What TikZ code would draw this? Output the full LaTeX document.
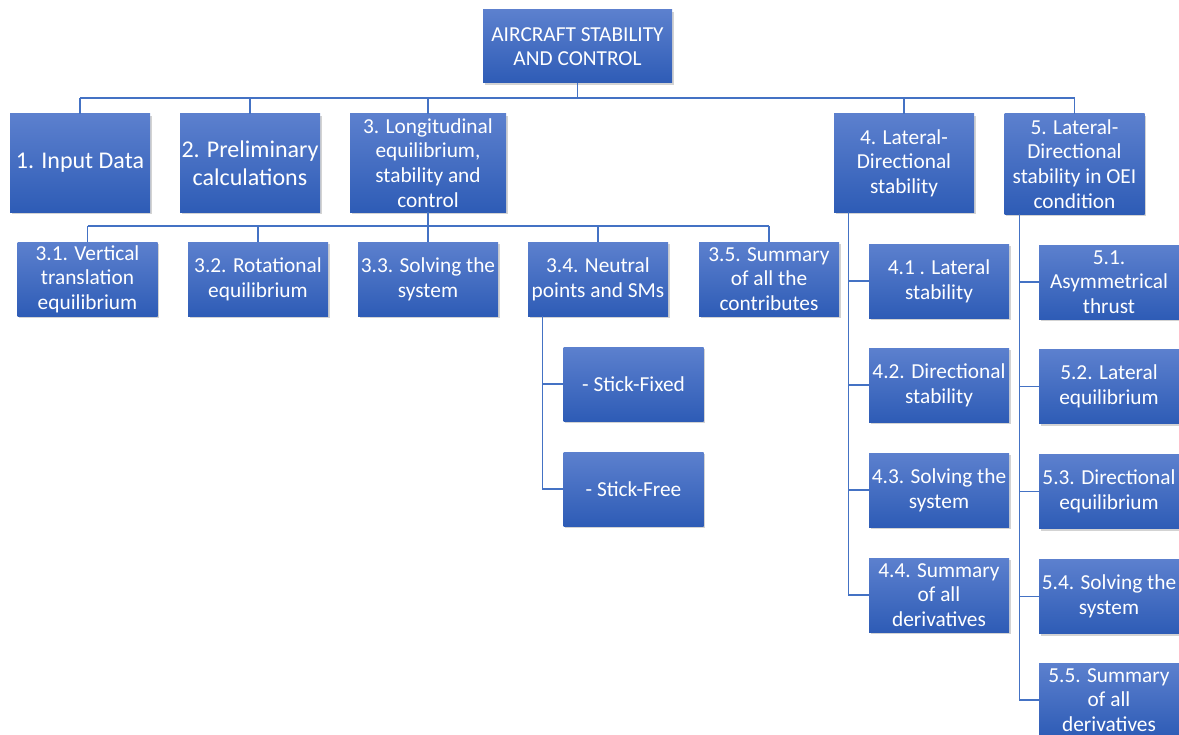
\documentclass[tikz,border=0pt]{standalone}
\usepackage{fontspec}
\setmainfont{Carlito}
\usetikzlibrary{calc,shadows}
\definecolor{boxtop}{RGB}{92,128,206}
\definecolor{boxbot}{RGB}{46,92,182}
\definecolor{linkblue}{RGB}{68,114,196}

\begin{document}
\begin{tikzpicture}[x=0.75pt,y=-0.75pt]
  \tikzset{
    box/.style={
      top color=boxtop, bottom color=boxbot, text=white, align=center,
      inner sep=0pt, minimum width=105pt, minimum height=55.5pt,
      font=\fontsize{16}{18.5}\selectfont,
      drop shadow={opacity=0.35, shadow xshift=1.2pt, shadow yshift=-1.5pt}
    },
    topbox/.style={box, minimum height=73.5pt},
    bigtext/.style={font=\fontsize{18}{21}\selectfont},
    link/.style={draw=linkblue, line width=1pt},
    % every node/.style={draw=red}
  }

  \useasboundingbox (0,0) rectangle (1179,735);

  \node[box, minimum width=141.75pt, minimum height=54.75pt] (root) at (577.5,46.5) {AIRCRAFT STABILITY\\AND CONTROL};

  \node[topbox, bigtext] (n1) at (80,163) {1. Input Data};
  \node[topbox, bigtext] (n2) at (250,163) {2. Preliminary\\calculations};
  \node[topbox, minimum width=117pt] (n3) at (428,163) {3. Longitudinal\\equilibrium,\\stability and\\control};
  \node[topbox] (n4) at (904,163) {4. Lateral-\\Directional\\stability};
  \node[topbox, minimum height=75pt] (n5) at (1074.5,164) {5. Lateral-\\Directional\\stability in OEI\\condition};

  \node[box] (n31) at (87.5,279) {3.1. Vertical\\translation\\equilibrium};
  \node[box] (n32) at (258,279) {3.2. Rotational\\equilibrium};
  \node[box] (n33) at (428,279) {3.3. Solving the\\system};
  \node[box] (n34) at (598,279) {3.4. Neutral\\points and SMs};
  \node[box] (n35) at (769,279) {3.5. Summary\\of all the\\contributes};

  \node[box] (sfix) at (633.5,384) {- Stick-Fixed};
  \node[box] (sfree) at (633.5,489) {- Stick-Free};

  \node[box] (n41) at (939,281) {4.1 . Lateral\\stability};
  \node[box] (n42) at (939,385) {4.2. Directional\\stability};
  \node[box] (n43) at (939,490) {4.3. Solving the\\system};
  \node[box] (n44) at (939,595) {4.4. Summary\\of all\\derivatives};

  \node[box] (n51) at (1109,282) {5.1.\\Asymmetrical\\thrust};
  \node[box] (n52) at (1109,386.5) {5.2. Lateral\\equilibrium};
  \node[box] (n53) at (1109,491.5) {5.3. Directional\\equilibrium};
  \node[box] (n54) at (1109,596.5) {5.4. Solving the\\system};
  \node[box] (n55) at (1109,700) {5.5. Summary\\of all\\derivatives};

  % buses
  \coordinate (bus1) at (0,98);
  \coordinate (bus3) at (0,226);

  \draw[link] (root.south) -- (root.south |- bus1);
  \draw[link] (n1.north |- bus1) -- (n5.north |- bus1);
  \foreach \n in {n1,n2,n3,n4,n5}
    \draw[link] (\n.north) -- (\n.north |- bus1);

  \draw[link] (n3.south) -- (n3.south |- bus3);
  \draw[link] (n31.north |- bus3) -- (n35.north |- bus3);
  \foreach \n in {n31,n32,n33,n34,n35}
    \draw[link] (\n.north) -- (\n.north |- bus3);

  % side branches
  \foreach \n in {sfix,sfree}
    \draw[link] ($(n34.south west)+(15,0)$) |- (\n.west);
  \foreach \n in {n41,n42,n43,n44}
    \draw[link] ($(n4.south west)+(15,0)$) |- (\n.west);
  \foreach \n in {n51,n52,n53,n54,n55}
    \draw[link] ($(n5.south west)+(15,0)$) |- (\n.west);

\end{tikzpicture}
\end{document}
